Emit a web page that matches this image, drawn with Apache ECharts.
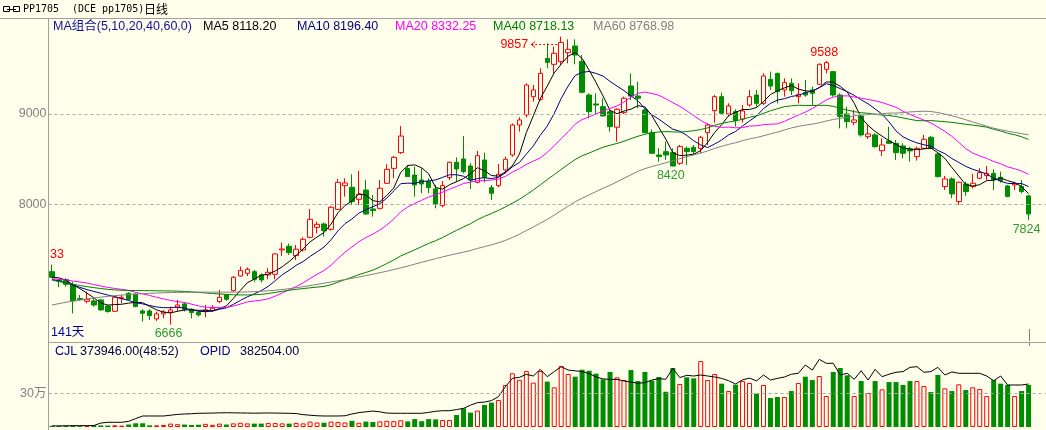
<!DOCTYPE html>
<html><head><meta charset="utf-8">
<script src="https://cdn.jsdelivr.net/npm/echarts@6/dist/echarts.min.js"></script>
<style>html,body{margin:0;padding:0;background:#FFFFEC;}#c{width:1046px;height:430px;}</style>
</head><body><div id="c"></div>
<script>
// ---- data (141 trading days) ----
const opens = [7254,7162,7166,7107,6956,6926,6930,6941,6874,6815,
 6956,7015,7004,6819,6819,6731,6786,6804,6860,6897,
 6838,6801,6812,6823,6922,6996,7044,7206,7236,7254,
 7218,7218,7225,7494,7535,7432,7494,7634,7745,7782,
 7723,7944,8206,8188,8055,8158,7948,7955,8232,8398,
 8572,8398,8324,8269,8251,8170,7985,8295,8465,8502,
 8424,8243,8490,8184,8206,8380,8546,8878,8989,9192,
 9162,9616,9550,9580,9679,9753,9580,9210,9111,9081,
 9026,8853,9015,9310,9199,9044,8793,8546,8583,8572,
 8454,8620,8631,8620,8793,9037,9192,9000,9026,8945,
 9100,9210,9118,9384,9450,9266,9340,9192,9236,9266,
 9329,9495,9469,9210,9000,8908,8978,8749,8768,8594,
 8701,8675,8646,8613,8528,8620,8742,8557,8196,8281,
 8030,8225,8196,8288,8318,8343,8299,8203,8214,8196,
 8093];
const closes = [7192,7151,7114,6930,6944,6948,6885,6830,6812,6970,
 6970,6948,6867,6793,6767,6786,6808,6830,6885,6838,
 6801,6775,6830,6849,6970,6948,7192,7265,7280,7170,
 7162,7247,7450,7505,7465,7502,7612,7834,7778,7708,
 7967,8243,8236,8029,8110,7893,7930,8177,8387,8520,
 8756,8306,8214,8225,8184,8003,8207,8465,8391,8361,
 8269,8538,8299,8122,8332,8498,8878,8934,9321,9266,
 9450,9572,9672,9793,9716,9653,9240,9026,9100,8978,
 8860,9052,9174,9199,9174,8793,8565,8528,8546,8424,
 8639,8583,8583,8742,8878,9192,9008,9089,8926,9033,
 9192,9118,9421,9310,9247,9347,9258,9218,9210,9229,
 9550,9568,9210,8971,8915,8934,8768,8779,8638,8657,
 8675,8572,8565,8591,8620,8720,8620,8306,8281,8115,
 8244,8140,8233,8351,8343,8270,8262,8085,8233,8140,
 7893];
const lows = [7181,7081,7088,6793,6933,6904,6867,6823,6801,6808,
 6904,6941,6860,6701,6719,6708,6738,6666,6812,6812,
 6738,6756,6749,6812,6904,6933,7033,7199,7206,7144,
 7133,7170,7170,7428,7440,7384,7476,7623,7679,7642,
 7708,7937,8085,7992,7992,7882,7863,7944,8225,8288,
 8557,8306,8085,8122,8122,7955,7966,8269,8251,8343,
 8170,8232,8243,8048,8188,8343,8527,8805,8963,9137,
 9148,9506,9450,9543,9561,9550,9229,8952,8989,8971,
 8805,8694,9000,9155,9063,8786,8557,8472,8491,8420,
 8436,8436,8557,8565,8657,8904,8989,8971,8860,8905,
 9081,9081,9100,9266,9118,9192,9210,9118,9192,9100,
 9321,9450,9192,8841,8841,8878,8749,8723,8628,8535,
 8668,8491,8509,8472,8484,8609,8609,8299,8159,8067,
 7993,8093,8177,8277,8270,8159,8240,8078,8159,8122,
 7824];
const highs = [7333,7173,7181,7140,6996,7033,6959,6948,6885,6978,
 6996,7026,7015,6838,6838,6812,6830,6867,6941,6911,
 6849,6823,6885,6885,7052,7007,7206,7310,7302,7273,
 7236,7291,7457,7575,7565,7550,7634,7948,7808,7797,
 7981,8280,8288,8332,8369,8269,8103,8269,8443,8535,
 8867,8435,8417,8398,8288,8214,8258,8472,8520,8756,
 8454,8590,8572,8214,8446,8527,8896,8963,9340,9321,
 9506,9782,9745,9857,9827,9827,9653,9229,9229,9174,
 9044,9063,9192,9450,9358,9063,8830,8620,8694,8620,
 8657,8639,8657,8756,8897,9210,9236,9118,9052,9100,
 9266,9266,9450,9469,9458,9395,9395,9340,9377,9303,
 9561,9588,9476,9229,9081,9044,9000,8878,8786,8731,
 8860,8712,8675,8639,8639,8768,8757,8565,8314,8299,
 8251,8251,8336,8399,8425,8388,8362,8214,8251,8270,
 8103];
const ma5 = [7195,7185,7160,7110,7066,7017,6964,6907,6884,6889,
 6893,6906,6913,6910,6869,6832,6804,6797,6815,6829,
 6832,6826,6826,6819,6845,6874,6958,7045,7131,7171,
 7214,7225,7262,7307,7366,7434,7507,7584,7638,7687,
 7780,7906,7986,8037,8117,8102,8040,8028,8099,8181,
 8354,8429,8437,8404,8337,8186,8167,8217,8250,8285,
 8339,8405,8372,8318,8312,8358,8426,8553,8793,8979,
 9170,9309,9456,9551,9641,9681,9615,9486,9347,9199,
 9041,9003,9033,9053,9092,9078,8981,8852,8721,8571,
 8540,8544,8555,8594,8685,8796,8881,8982,9019,9050,
 9050,9072,9138,9215,9258,9289,9317,9276,9256,9252,
 9293,9355,9353,9306,9243,9120,8960,8873,8807,8755,
 8703,8664,8621,8612,8605,8614,8623,8571,8509,8408,
 8313,8217,8203,8217,8262,8267,8292,8262,8239,8198,
 8118.2];
const ma10 = [7170,7150,7130,7105,7080,7055,7035,7015,6995,6978,
 6955,6935,6910,6897,6879,6863,6855,6855,6862,6849,
 6832,6815,6811,6817,6837,6853,6892,6935,6975,7008,
 7044,7091,7153,7219,7268,7324,7366,7423,7473,7526,
 7607,7706,7785,7837,7902,7941,7973,8007,8068,8149,
 8228,8234,8232,8252,8259,8270,8298,8327,8327,8311,
 8263,8286,8294,8284,8299,8348,8415,8462,8555,8646,
 8764,8867,9005,9172,9310,9426,9462,9471,9449,9420,
 9361,9309,9259,9200,9146,9060,8992,8942,8887,8832,
 8809,8763,8703,8658,8628,8668,8712,8768,8806,8867,
 8923,8976,9060,9117,9154,9169,9194,9207,9235,9255,
 9291,9336,9315,9281,9248,9206,9157,9113,9056,8999,
 8912,8812,8747,8709,8680,8659,8644,8596,8561,8507,
 8463,8420,8387,8363,8335,8290,8255,8232,8228,8230,
 8196.4];
const ma20 = [7175,7170,7162,7150,7140,7128,7110,7095,7080,7068,
 7058,7045,7025,7008,6990,6970,6952,6935,6922,6913,
 6894,6875,6861,6857,6858,6858,6873,6895,6919,6929,
 6938,6953,6982,7018,7053,7089,7129,7179,7224,7267,
 7325,7399,7469,7528,7585,7632,7669,7715,7770,7838,
 7917,7970,8009,8045,8081,8106,8135,8167,8198,8230,
 8245,8260,8263,8268,8279,8309,8357,8394,8441,8478,
 8513,8576,8649,8728,8804,8887,8939,8967,9002,9033,
 9062,9088,9132,9186,9228,9243,9227,9207,9168,9126,
 9085,9036,8981,8929,8887,8864,8852,8855,8847,8849,
 8866,8869,8882,8887,8891,8919,8953,8988,9021,9061,
 9107,9156,9187,9199,9201,9188,9176,9160,9146,9127,
 9101,9074,9031,8995,8964,8932,8901,8855,8808,8753,
 8687,8616,8567,8536,8508,8474,8449,8414,8394,8368,
 8332.25];
const ma40 = [7160,7145,7130,7115,7100,7088,7077,7067,7058,7052,
 7048,7046,7045,7044,7043,7042,7041,7040,7038,7035,
 7030,7025,7018,7012,7006,7002,6998,6996,6996,6998,
 7003,7012,7024,7036,7048,7058,7067,7075,7083,7090,
 7110,7137,7165,7192,7222,7245,7271,7305,7344,7383,
 7428,7462,7495,7531,7567,7597,7632,7673,7711,7749,
 7785,7829,7866,7898,7932,7971,8013,8055,8106,8158,
 8215,8273,8329,8386,8442,8496,8537,8567,8600,8632,
 8654,8674,8698,8727,8753,8776,8792,8801,8805,8802,
 8799,8806,8815,8828,8846,8875,8895,8911,8924,8941,
 8964,8979,9007,9036,9059,9081,9090,9097,9094,9093,
 9096,9096,9084,9064,9044,9026,9014,9008,8996,8988,
 8984,8972,8956,8941,8927,8925,8927,8921,8915,8907,
 8897,8886,8877,8867,8854,8831,8812,8787,8770,8748,
 8718.13];
const ma60 = [6885,6900,6915,6928,6940,6952,6962,6972,6980,6988,
 6995,7001,7006,7010,7014,7017,7020,7022,7024,7025,
 7026,7027,7027,7027,7027,7027,7027,7028,7030,7033,
 7037,7042,7048,7056,7065,7076,7088,7100,7113,7126,
 7140,7153,7166,7180,7195,7210,7226,7242,7259,7277,
 7296,7316,7337,7358,7378,7398,7417,7436,7453,7470,
 7488,7511,7531,7551,7574,7600,7633,7668,7710,7748,
 7790,7833,7880,7930,7979,8027,8068,8104,8141,8177,
 8211,8249,8288,8327,8364,8395,8418,8439,8460,8481,
 8505,8528,8546,8567,8591,8619,8642,8663,8682,8704,
 8725,8739,8759,8780,8799,8823,8846,8863,8877,8888,
 8902,8923,8939,8952,8964,8979,8989,8994,8998,9003,
 9010,9010,9015,9023,9027,9031,9027,9016,8999,8980,
 8960,8936,8912,8888,8865,8842,8826,8810,8796,8782,
 8768.98];
const volumes = [10000,8000,10000,12000,8000,9000,15000,14000,13000,15000,
 12000,22000,33000,33000,15000,15000,18000,30000,25000,22000,
 18000,20000,28000,20000,30000,22000,32000,38000,32000,30000,
 30000,35000,35000,32000,30000,36000,32000,48000,40000,38000,
 48000,45000,40000,55000,38000,48000,45000,50000,55000,52000,
 60000,50000,70000,52000,70000,68000,62000,62000,107000,166000,
 128000,146000,196000,217000,240000,374000,478000,420000,498000,395000,
 498000,404000,353000,543000,472000,448000,510000,501000,475000,424000,
 490000,442000,418000,507000,409000,490000,412000,445000,314000,525000,
 383000,442000,433000,587000,418000,472000,386000,320000,377000,409000,
 392000,297000,374000,258000,267000,267000,320000,392000,448000,418000,
 454000,276000,490000,525000,460000,276000,409000,303000,409000,335000,
 400000,400000,374000,409000,409000,365000,311000,463000,344000,320000,
 380000,329000,353000,338000,276000,418000,386000,374000,276000,320000,
 373946];
const openInterest = [10000,10000,11000,12000,12000,12000,13000,35000,42000,42000,
 42000,50000,75000,98000,98000,98000,98000,105000,112000,116000,
 118000,122000,123000,124000,126000,127000,126000,125000,124000,123000,
 124000,125000,124000,123000,122000,120000,110000,105000,100000,98000,
 98000,98000,100000,116000,128000,135000,142000,135000,124000,122000,
 122000,122000,122000,122000,130000,140000,145000,145000,155000,166000,
 195000,217000,222000,235000,270000,359000,433000,442000,469000,454000,
 513000,448000,493000,537000,507000,500000,493000,475000,445000,428000,
 424000,424000,410000,400000,389000,395000,418000,430000,425000,522000,
 440000,460000,454000,463000,454000,445000,433000,412000,383000,420000,
 435000,410000,463000,418000,433000,445000,470000,478000,552000,507000,
 602000,567000,567000,463000,478000,424000,501000,418000,513000,448000,
 470000,487000,493000,531000,537000,487000,493000,531000,463000,490000,
 478000,478000,478000,478000,454000,412000,454000,374000,374000,374000,
 382504];
const priceTicks = [8000, 9000];
const volTicks = [300000];
const volTickLabels = ['30万'];
const maNames = ['MA5', 'MA10', 'MA20', 'MA40', 'MA60'];
const maLegendValues = ['8118.20', '8196.40', '8332.25', '8718.13', '8768.98'];
const highMarks = [73, 111];
const lowMarks = [17, 89, 140];
const titleCode = 'PP1705';
const titleExch = '(DCE pp1705)';
const titleKind = '日线';
const maComboLabel = 'MA组合(5,10,20,40,60,0)';
const dayCountLabel = '141天';
const volLegend = ['CJL', '373946.00(48:52)', 'OPID', '382504.00'];
const edgeLabel = '33';
// 141 trading days plus two empty slots of right margin
const categories = opens.map((_, i) => 'D' + (i + 1)).concat(['', ' ']);

// ---- styling ----
const BG = '#FFFFEC', UP = '#FF0000', DOWN = '#008C00', LBLGREEN = '#2E9A2E';
const FONT = '"Liberation Sans","Noto Sans CJK SC",sans-serif';
const maColors = ['#000000', '#000080', '#FF00FF', '#008000', '#808080'];
const maData = [ma5, ma10, ma20, ma40, ma60];

const chart = echarts.init(document.getElementById('c'));
const axisOff = {axisLine:{show:false}, axisTick:{show:false}, axisLabel:{show:false}, splitLine:{show:false}};
const gridDash = {color:'#A8A8A8', type:[3,3], width:1};

const option = {
  animation: false,
  backgroundColor: BG,
  grid: [
    {left: 48.5, top: 18, width: 1001, height: 323},
    {left: 48.5, top: 343, width: 1001, height: 84}
  ],
  xAxis: [
    Object.assign({type:'category', data: categories, gridIndex:0, boundaryGap:true}, axisOff),
    Object.assign({type:'category', data: categories, gridIndex:1, boundaryGap:true}, axisOff)
  ],
  yAxis: [
    Object.assign({type:'value', gridIndex:0, min:6486, max:10063}, axisOff),
    Object.assign({type:'value', gridIndex:1, min:0, max:747800}, axisOff)
  ],
  series: [
    {
      type:'candlestick', xAxisIndex:0, yAxisIndex:0, barWidth:5, silent:true,
      data: opens.map((o, i) => [o, closes[i], lows[i], highs[i]]),
      itemStyle: {color: BG, color0: DOWN, borderColor: UP, borderColor0: DOWN, borderWidth: 1},
      markLine: {
        silent:true, symbol:['none','none'], animation:false,
        lineStyle: gridDash,
        label: {position:'start', distance:2, color:'#808080', fontSize:12.5, fontFamily:FONT, formatter: p => String(p.value)},
        data: priceTicks.map(v => ({yAxis: v}))
      }
    },
    ...maData.map((d, k) => ({
      type:'line', name: maNames[k], xAxisIndex:0, yAxisIndex:0, data: d,
      symbol:'none', silent:true, lineStyle:{color: maColors[k], width:1}
    })),
    {
      type:'bar', xAxisIndex:1, yAxisIndex:1, barWidth:5, silent:true,
      data: volumes.map((v, i) => ({
        value: v,
        itemStyle: closes[i] >= opens[i]
          ? {color: BG, borderColor: UP, borderWidth: 1}
          : {color: DOWN, borderWidth: 0}
      })),
      markLine: {
        silent:true, symbol:['none','none'], animation:false,
        lineStyle: gridDash,
        label: {position:'start', distance:2, color:'#808080', fontSize:12.5, fontFamily:FONT,
                formatter: p => volTickLabels[volTicks.indexOf(p.value)]},
        data: volTicks.map(v => ({yAxis: v}))
      }
    },
    {
      type:'line', xAxisIndex:1, yAxisIndex:1, data: openInterest,
      symbol:'none', silent:true, lineStyle:{color:'#000000', width:1}
    }
  ]
};
chart.setOption(option);

function txt(x, y, text, color, opts) {
  opts = opts || {};
  const align = opts.align || 'left';
  return {type:'text', x: x, y: y, z: 100, silent: true,
    style: {text: text, fill: color, font: (opts.font || ('12.5px ' + FONT)),
      align: align, textAlign: align, verticalAlign: 'middle', textVerticalAlign: 'middle'}};
}
function line(x1, y1, x2, y2, color, dash) {
  return {type:'line', z: 100, silent: true, shape:{x1, y1, x2, y2},
    style:{stroke: color, lineWidth: 1, lineDash: dash || null}};
}

const els = [];
// frame
els.push(line(0, 18.5, 1046, 18.5, '#A0A0A0'));
els.push(line(48.5, 18, 48.5, 430, '#A0A0A0'));
els.push(line(48.5, 342.5, 1046, 342.5, '#A0A0A0'));
els.push(line(1029.5, 329, 1029.5, 341, '#808080'));
els.push(line(1029.5, 343, 1029.5, 346, '#808080'));
// title icon + text
els.push({type:'rect', z:100, silent:true, shape:{x:3.5, y:6.5, width:6, height:5}, style:{stroke:'#000', fill:null, lineWidth:1}});
els.push({type:'rect', z:100, silent:true, shape:{x:13.5, y:6.5, width:6, height:5}, style:{stroke:'#000', fill:null, lineWidth:1}});
els.push(line(7, 9.5, 16, 9.5, '#000'));
const MONO = '10px "DejaVu Sans Mono","Liberation Mono","Noto Sans CJK SC",monospace';
els.push(txt(23, 9.5, titleCode, '#000', {font: MONO}));
els.push(txt(72, 9.5, titleExch, '#000', {font: MONO}));
els.push(txt(144, 9.5, titleKind, '#000', {font: '12px "Noto Sans CJK SC",sans-serif'}));
// MA legend
els.push(txt(53, 27, maComboLabel, '#10109A'));
const legX = [203, 297, 395, 493, 593];
maNames.forEach((n, k) => els.push(txt(legX[k], 27, n + ' ' + maLegendValues[k], maColors[k])));
// volume legend
els.push(txt(55, 352, volLegend[0], '#000080'));
els.push(txt(80, 352, volLegend[1], '#000040'));
els.push(txt(200, 352, volLegend[2], '#000080'));
els.push(txt(240, 352, volLegend[3], '#000040'));
// bottom-left day count, clipped edge label
els.push(txt(51, 333, dayCountLabel, '#000090'));
els.push(txt(50, 255, edgeLabel, UP));

// extreme labels positioned through the axes
const px = (i, v) => chart.convertToPixel({xAxisIndex:0, yAxisIndex:0}, [i, v]);
highMarks.forEach((i, k) => {
  const p = px(i, highs[i]);
  if (k === 0) {
    const y = Math.round(p[1] + 7) + 0.5;
    els.push(txt(p[0] - 33, y, String(highs[i]), UP, {align:'right'}));
    els.push({type:'polyline', z:100, silent:true, shape:{points:[[p[0]-26, y-3], [p[0]-30, y], [p[0]-26, y+3]]},
      style:{stroke: UP, fill: null, lineWidth: 1}});
    els.push(line(p[0] - 30, y, p[0] - 2, y, UP, [2, 2]));
  } else {
    els.push(txt(p[0] - 2, p[1] - 8, String(highs[i]), UP, {align:'center'}));
  }
});
lowMarks.forEach(i => {
  const p = px(i, lows[i]);
  els.push(txt(p[0] - 2, p[1] + 9, String(lows[i]), LBLGREEN, {align:'center'}));
});

chart.setOption({graphic: {elements: els}});
</script>
</body></html>
